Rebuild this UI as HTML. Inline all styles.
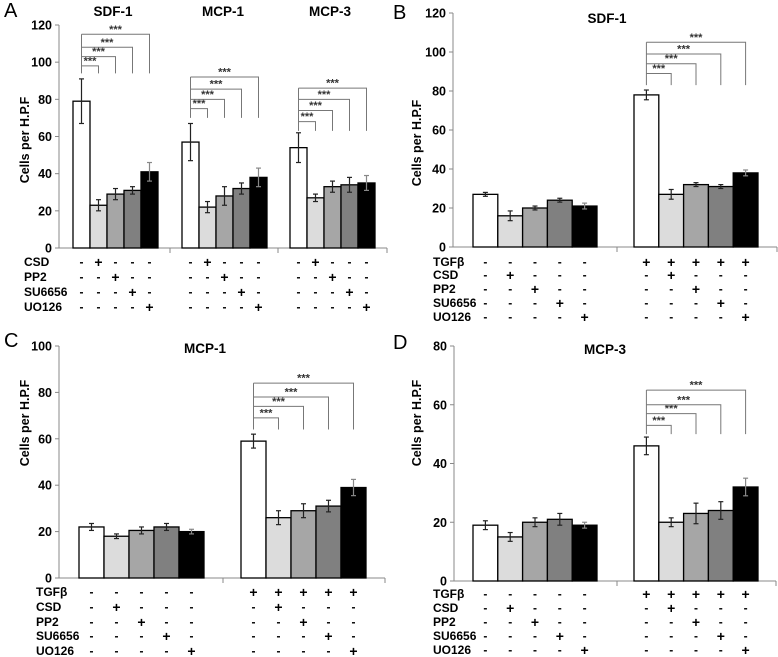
<!DOCTYPE html>
<html><head><meta charset="utf-8"><style>
html,body{margin:0;padding:0;background:#fff}
svg{display:block;font-family:"Liberation Sans",sans-serif;font-weight:bold}
</style></head><body>
<svg id="fig" width="778" height="657" viewBox="0 0 778 657" xmlns="http://www.w3.org/2000/svg"></svg>
<script>
// ---- data ----
const panelATitles = ["SDF-1","MCP-1","MCP-3"];
const panelAValues = [[79,23,29,31,41],[57,22,28,32,38],[54,27,33,34,35]];
const panelAErrors = [[12,3,3,2,5],[10,3,5,3,5],[8,2,3,4,4]];
const panelABrackets = [[98,103,108,115],[75,80,85.5,92],[68,74,80,86]];
const panelADrop = [94,70,63];
const panelBValues = [[27,16,20,24,21],[78,27,32,31,38]];
const panelBErrors = [[1,2.5,1,1,1.5],[2.5,2.5,1,1,1.5]];
const panelBBrackets = [89,94,99,105];
const panelBDrop = 83;
const panelCValues = [[22,18,20.5,22,20],[59,26,29,31,39]];
const panelCErrors = [[1.5,1,1.5,1.5,1],[3,3,3,2.5,3.5]];
const panelCBrackets = [69,74,78,84];
const panelCDrop = 64;
const panelDValues = [[19,15,20,21,19],[46,20,23,24,32]];
const panelDErrors = [[1.5,1.5,1.5,2,1],[3,1.5,3.5,3,3]];
const panelDBrackets = [53,57,60,65];
const panelDDrop = 50;
const treatLabels = ["CSD","PP2","SU6656","UO126"];
const fills = ["#ffffff","#dcdcdc","#a6a6a6","#808080","#000000"];

const NS="http://www.w3.org/2000/svg";
const svg=document.getElementById('fig');
function mk(tag,attrs,parent,name){const e=document.createElementNS(NS,tag);for(const k in attrs)e.setAttribute(k,attrs[k]);


(parent||svg).appendChild(e);return e;}
function txt(s,x,y,size,anchor,parent,name,extra){const t=mk('text',Object.assign({x:x,y:y,'font-size':size,'text-anchor':anchor||'middle'},extra||{}),parent,name);t.textContent=s;return t;}

function panel(cfg){
  const g=mk('g',{},svg,cfg.name);
  const ys=v=>cfg.y0-(v/cfg.max)*(cfg.y0-cfg.yTop);
  txt(cfg.letter,cfg.letterX,cfg.letterY,20,'start',g,'panel-letter',{'font-weight':'normal'});
  mk('line',{x1:cfg.ax,y1:cfg.yTop,x2:cfg.ax,y2:cfg.y0,stroke:'#888','stroke-width':1},g,'y-axis');
  mk('line',{x1:cfg.ax,y1:cfg.y0,x2:cfg.end,y2:cfg.y0,stroke:'#888','stroke-width':1},g,'x-axis');
  for(let v=0;v<=cfg.max;v+=20){
    mk('line',{x1:cfg.ax-4,y1:ys(v),x2:cfg.ax,y2:ys(v),stroke:'#888'},g,'y-tick');
    txt(String(v),cfg.ax-7,ys(v)+4.5,12.5,'end',g,'y-tick-label');
  }
  cfg.seps.forEach(s=>mk('line',{x1:s,y1:cfg.y0,x2:s,y2:cfg.y0+5,stroke:'#888'},g,'x-group-tick'));
  txt('Cells per H.P.F',0,0,12.5,'middle',g,'y-axis-title',{transform:`translate(${cfg.titleX},${cfg.titleY}) rotate(-90)`});
  cfg.titles.forEach((t,i)=>txt(t,cfg.titleXs[i],cfg.titleTY,13.5,'middle',g,'chart-title'));
  cfg.values.forEach((grp,gi)=>{
    const gx=cfg.starts[gi];
    grp.forEach((v,j)=>{
      const x=gx+j*cfg.bw, y=ys(v);
      mk('rect',{x:x,y:y,width:cfg.bw,height:cfg.y0-y,fill:fills[j],stroke:'#000','stroke-width':1.3},g,'bar');
      const e=cfg.errors[gi][j], cx=x+cfg.bw/2;
      const ec=j==4?'#888':'#222';
      mk('line',{x1:cx,y1:ys(v+e),x2:cx,y2:ys(v-e),stroke:ec,'stroke-width':1.2},g,'error-bar');
      mk('line',{x1:cx-2.5,y1:ys(v+e),x2:cx+2.5,y2:ys(v+e),stroke:ec,'stroke-width':1.2},g,'error-cap');
      mk('line',{x1:cx-2.5,y1:ys(v-e),x2:cx+2.5,y2:ys(v-e),stroke:ec,'stroke-width':1.2},g,'error-cap');
    });
    const br=cfg.brackets[gi];
    if(br){
      const lx=gx+cfg.bw/2, dy=ys(cfg.drops[gi]);
      mk('line',{x1:lx,y1:ys(br[br.length-1]),x2:lx,y2:dy,stroke:'#777'},g,'bracket-left');
      br.forEach((lv,k)=>{
        const rx=gx+(k+1)*cfg.bw+cfg.bw/2, yy=ys(lv);
        mk('polyline',{points:`${lx},${yy} ${rx},${yy} ${rx},${dy}`,fill:'none',stroke:'#777'},g,'significance-bracket');
        txt('***',(lx+rx)/2,yy-1.5,11,'middle',g,'significance-stars',{fill:'#333'});
      });
    }
  });
  const labels=cfg.tgf?['TGF\u03b2'].concat(treatLabels):treatLabels;
  labels.forEach((lab,r)=>{
    const y=cfg.rows[r]+4;
    txt(lab,cfg.labelX,y,12,'start',g,'treatment-label');
    cfg.starts.forEach((gx,gi)=>{
      for(let j=0;j<5;j++){
        let plus;
        if(cfg.tgf){plus = r==0 ? gi==1 : j==r;}
        else plus = j==r+1;
        txt(plus?'+':'-',gx+j*cfg.bw+cfg.bw/2,y+(plus?1:0),plus?14:12,'middle',g,'treatment-sign');
      }
    });
  });
}

panel({name:'panel-a',letter:'A',letterX:4,letterY:17,ax:59,y0:248,yTop:25,max:120,end:387,
  starts:[73,182,290],bw:17,seps:[170,278,387],rows:[262,277,292,307],labelX:24,tgf:false,
  titleX:29,titleY:140,titles:panelATitles,titleXs:[113,223,330],titleTY:16,
  values:panelAValues,errors:panelAErrors,brackets:panelABrackets,drops:panelADrop});
panel({name:'panel-b',letter:'B',letterX:393,letterY:19,ax:453,y0:247,yTop:13,max:120,end:777,
  starts:[473,634],bw:24.8,seps:[617,777],rows:[262,275,289,303,317],labelX:433,tgf:true,
  titleX:421,titleY:143,titles:['SDF-1'],titleXs:[607],titleTY:23,
  values:panelBValues,errors:panelBErrors,brackets:[null,panelBBrackets],drops:[0,panelBDrop]});
panel({name:'panel-c',letter:'C',letterX:4,letterY:347,ax:59,y0:578,yTop:346,max:100,end:385,
  starts:[79,241],bw:25,seps:[223,385],rows:[592,607,622,636,651],labelX:36,tgf:true,
  titleX:29,titleY:423,titles:['MCP-1'],titleXs:[205],titleTY:353,
  values:panelCValues,errors:panelCErrors,brackets:[null,panelCBrackets],drops:[0,panelCDrop]});
panel({name:'panel-d',letter:'D',letterX:393,letterY:349,ax:454,y0:581,yTop:346,max:80,end:776,
  starts:[473,634],bw:24.8,seps:[617,776],rows:[594,608,622,636,650],labelX:433,tgf:true,
  titleX:421,titleY:423,titles:['MCP-3'],titleXs:[605],titleTY:354,
  values:panelDValues,errors:panelDErrors,brackets:[null,panelDBrackets],drops:[0,panelDDrop]});
</script>
</body></html>
